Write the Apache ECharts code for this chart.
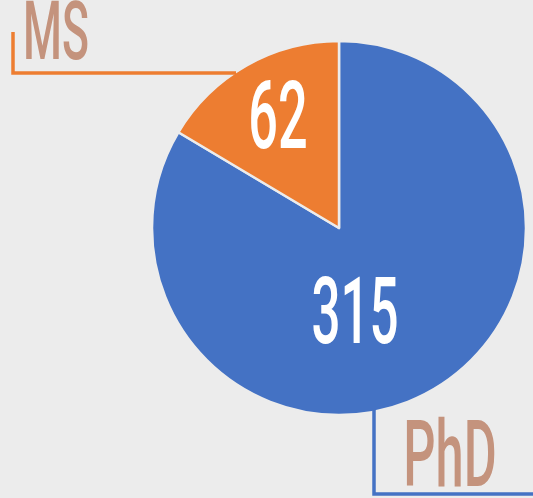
<!DOCTYPE html>
<html>
<head>
<meta charset="utf-8">
<script src="https://cdn.jsdelivr.net/npm/echarts@6/dist/echarts.min.js"></script>
<style>
html,body{margin:0;padding:0;background:#ececec;}
#chart{width:533px;height:498px;}
</style>
</head>
<body>
<div id="chart"></div>
<script>
var categories = ['PhD', 'MS'];
var values = [315, 62];
var colors = ['#4472c4', '#ed7d31'];

var FONT = 'Roboto, "DejaVu Sans Condensed", sans-serif';
var SX = 0.55;
var CX = 339, CY = 228, R = 187;
var nameColor = '#c4937d';

var data = categories.map(function (c, i) {
  return { name: c, value: values[i], itemStyle: { color: colors[i] } };
});

function txt(s, x, y, size, fill, align) {
  return {
    type: 'text', x: x, y: y, scaleX: SX, z: 10, silent: true,
    style: {
      text: s, fill: fill, fontFamily: FONT, fontWeight: 500,
      fontSize: size, align: align || 'center', verticalAlign: 'middle'
    }
  };
}
function line(pts, color) {
  return {
    type: 'polyline', z: 5, silent: true,
    shape: { points: pts },
    style: { stroke: color, lineWidth: 3.5, fill: null }
  };
}

var chart = echarts.init(document.getElementById('chart'), null, { renderer: 'canvas' });
chart.setOption({
  backgroundColor: '#ececec',
  animation: false,
  graphic: [
    line([[236, 73], [13, 73], [13, 32]], colors[1]),
    line([[374, 408], [374, 494], [533, 494]], colors[0]),
    txt(String(values[1]), CX - 61, CY - 104, 95, '#ffffff'),
    txt(String(values[0]), CX + 16, CY + 92, 93, '#ffffff'),
    txt(categories[1], 56, 39, 81, nameColor),
    txt(categories[0], 450, 463, 92, nameColor)
  ],
  series: [
    {
      type: 'pie',
      center: [CX, CY],
      radius: [0, R],
      startAngle: 90,
      clockwise: true,
      z: 2,
      itemStyle: { borderColor: '#ececec', borderWidth: 2.5 },
      label: { show: false },
      labelLine: { show: false },
      emphasis: { disabled: true },
      data: data
    }
  ]
});
</script>
</body>
</html>
